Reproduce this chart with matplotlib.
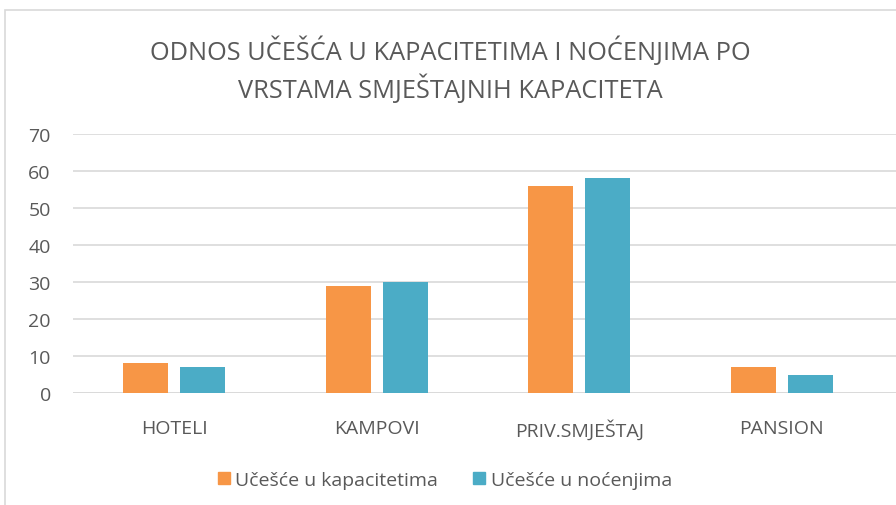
import matplotlib
matplotlib.use("Agg")
import matplotlib.pyplot as plt
import numpy as np
from matplotlib.patches import Rectangle, Patch

categories = ["HOTELI", "KAMPOVI", "PRIV.SMJEŠTAJ", "PANSION"]
kapaciteti = [8, 29, 56, 7]
nocenja = [7, 30, 58, 5]
series_names = ["Učešće u kapacitetima", "Učešće u noćenjima"]
yticks = [0, 10, 20, 30, 40, 50, 60, 70]
title = "ODNOS UČEŠĆA U KAPACITETIMA I NOĆENJIMA PO\nVRSTAMA SMJEŠTAJNIH KAPACITETA"

plt.rcParams['font.family'] = ['Open Sans', 'DejaVu Sans']
W, H = 896, 506
fig = plt.figure(figsize=(W/100, H/100), dpi=100)
fig.patch.set_facecolor("white")

# chart frame
fig.patches.append(Rectangle((5/W, 0 - 0.01), 1.0, 1 - 11/H + 0.01, transform=fig.transFigure,
                             fill=False, edgecolor="#d9d9d9", linewidth=1.2, zorder=0))

x0, x1 = 73, 896
ybot, ytop = 394, 135
cat_px = 202.5
ax = fig.add_axes([x0/W, 1 - ybot/H, (x1-x0)/W, (ybot-ytop)/H])
ax.set_xlim(-0.5, -0.5 + (x1 - x0) / cat_px)
ax.set_ylim(0, 70)

x = np.arange(len(categories))
bw = 45 / cat_px
off = 57 / cat_px / 2
ax.bar(x - off, kapaciteti, bw, color="#F79646", zorder=3)
ax.bar(x + off, nocenja, bw, color="#4BACC6", zorder=3)

ax.set_yticks(yticks)
ax.set_yticklabels([str(v) for v in yticks], fontsize=14, color="#595959")
ax.set_xticks(x)
ax.set_xticklabels(categories, fontsize=14, color="#595959")
ax.tick_params(axis='both', length=0)
ax.tick_params(axis='y', pad=16)
ax.tick_params(axis='x', pad=19)
ax.yaxis.grid(True, color="#d9d9d9", linewidth=1.2, zorder=0)
ax.set_axisbelow(True)
for s in ax.spines.values():
    s.set_visible(False)
ax.axhline(0, color="#d9d9d9", linewidth=1.2, zorder=1)

fig.text(450/W, 1 - 70/H, title, ha="center", va="center", fontsize=18.3,
         color="#595959", linespacing=1.35)

handles = [Patch(color="#F79646"), Patch(color="#4BACC6")]
fig.legend(handles, series_names, loc="center", bbox_to_anchor=(445/W, 1 - 481/H),
           ncol=2, frameon=False, fontsize=14, handlelength=0.6, handleheight=0.6,
           handletextpad=0.3, columnspacing=1.8, labelcolor="#595959")

fig.savefig("out.png", dpi=100, facecolor="white")
